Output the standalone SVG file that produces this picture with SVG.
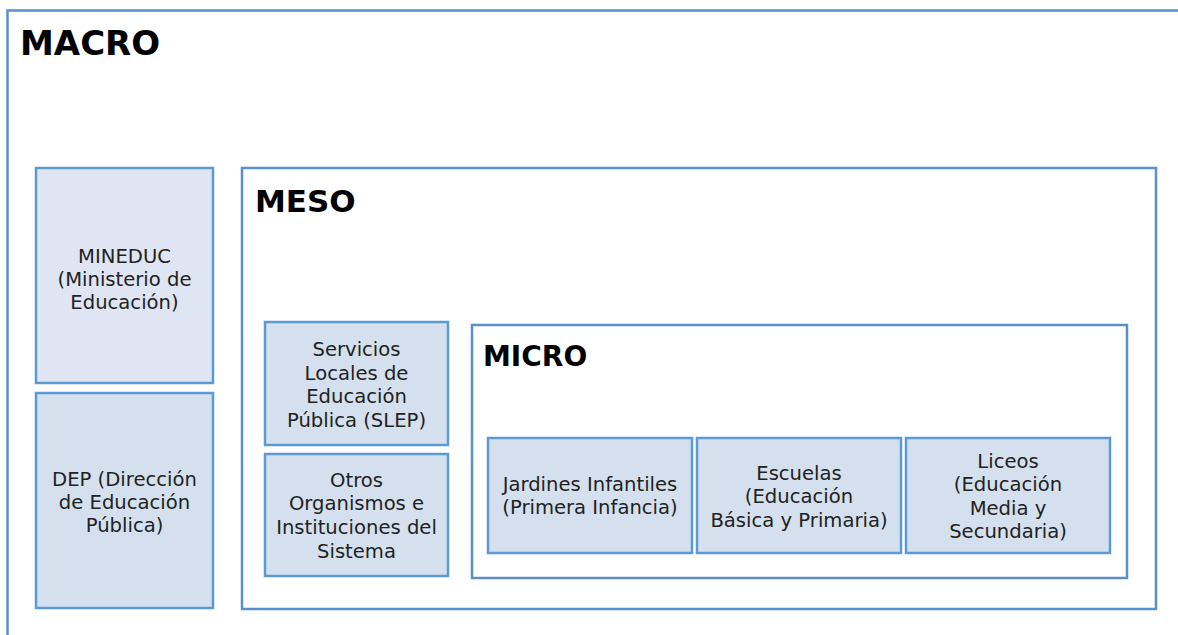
<svg xmlns="http://www.w3.org/2000/svg" width="1178" height="635" viewBox="0 0 1178 635">
<style>
.frame{fill:#ffffff;stroke:#5b8fc9;stroke-width:2.5}
.box{stroke:#5b9bd5;stroke-width:2.5}
.b1{fill:#dfe5f3}
.b2{fill:#d5e0ef}
.title{font-family:"DejaVu Sans",sans-serif;font-weight:bold;fill:#000}
.t{font-family:"DejaVu Sans",sans-serif;font-size:19.6px;fill:#222;text-anchor:middle}
</style>
<g id="macro">
<rect class="frame" x="7.5" y="10.5" width="1190" height="640"/>
<text class="title" x="20" y="55" font-size="34">MACRO</text>
</g>
<g id="mineduc">
<rect class="box b1" x="36" y="168" width="177" height="215"/>
<text class="t"><tspan x="124.5" y="263">MINEDUC</tspan><tspan x="124.5" y="286">(Ministerio de</tspan><tspan x="124.5" y="309">Educación)</tspan></text>
</g>
<g id="dep">
<rect class="box b2" x="36" y="393" width="177" height="215"/>
<text class="t"><tspan x="124.5" y="486">DEP (Dirección</tspan><tspan x="124.5" y="509">de Educación</tspan><tspan x="124.5" y="532">Pública)</tspan></text>
</g>
<g id="meso">
<rect class="frame" x="242" y="168" width="914" height="441"/>
<text class="title" x="255" y="212" font-size="31">MESO</text>
</g>
<g id="slep">
<rect class="box b2" x="265" y="322" width="183" height="123"/>
<text class="t"><tspan x="356.5" y="356">Servicios</tspan><tspan x="356.5" y="380">Locales de</tspan><tspan x="356.5" y="403">Educación</tspan><tspan x="356.5" y="427">Pública (SLEP)</tspan></text>
</g>
<g id="otros">
<rect class="box b2" x="265" y="454" width="183" height="122"/>
<text class="t"><tspan x="356.5" y="487">Otros</tspan><tspan x="356.5" y="510">Organismos e</tspan><tspan x="356.5" y="534">Instituciones del</tspan><tspan x="356.5" y="558">Sistema</tspan></text>
</g>
<g id="micro">
<rect class="frame" x="472" y="325" width="655" height="253"/>
<text class="title" x="483" y="366" font-size="28">MICRO</text>
</g>
<g id="jardines">
<rect class="box b2" x="488" y="438" width="204" height="115"/>
<text class="t"><tspan x="590" y="491">Jardines Infantiles</tspan><tspan x="590" y="514">(Primera Infancia)</tspan></text>
</g>
<g id="escuelas">
<rect class="box b2" x="697" y="438" width="204" height="115"/>
<text class="t"><tspan x="799" y="480">Escuelas</tspan><tspan x="799" y="503">(Educación</tspan><tspan x="799" y="527">Básica y Primaria)</tspan></text>
</g>
<g id="liceos">
<rect class="box b2" x="906" y="438" width="204" height="115"/>
<text class="t"><tspan x="1008" y="468">Liceos</tspan><tspan x="1008" y="491">(Educación</tspan><tspan x="1008" y="515">Media y</tspan><tspan x="1008" y="538">Secundaria)</tspan></text>
</g>
<g id="connectors"></g>
</svg>
